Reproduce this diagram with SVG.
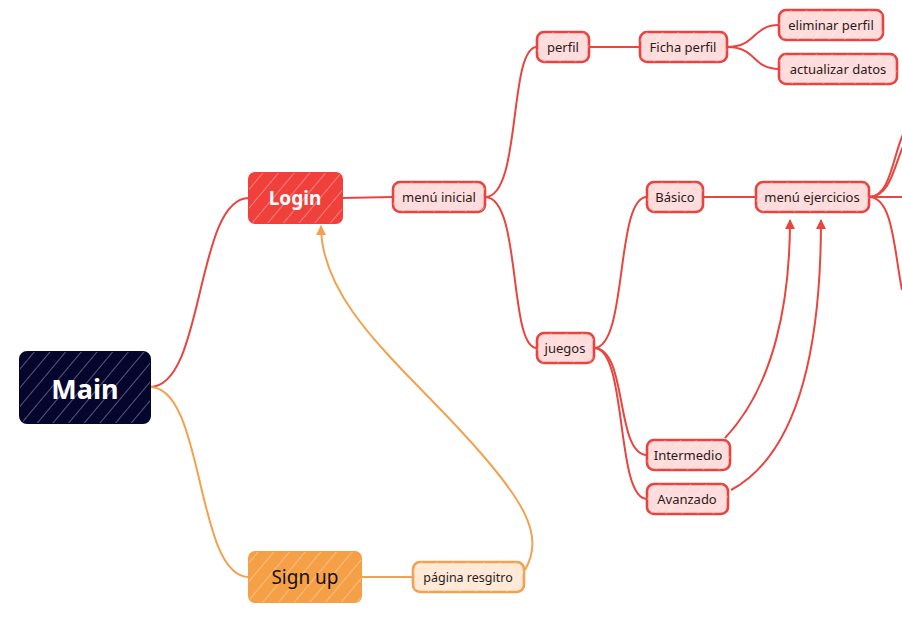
<svg xmlns="http://www.w3.org/2000/svg" width="902" height="632" viewBox="0 0 902 632">
<style>
.t{font-family:"Noto Sans","Liberation Sans",sans-serif;font-size:13px;fill:#2a1a1a;text-anchor:middle;dominant-baseline:central}
.sub{fill:#ffdcdc;stroke:#e8433f;stroke-width:2.6}
.hatch{fill:url(#h)}
.er{fill:none;stroke:#e8453f;stroke-width:2}
.eo{fill:none;stroke:#f2a24e;stroke-width:2}
</style>
<defs>
<pattern id="h" width="12" height="12" patternUnits="userSpaceOnUse" patternTransform="rotate(40)">
<line x1="0" y1="0" x2="0" y2="12" stroke="#ffffff" stroke-width="1.2" stroke-opacity="0.55"/>
</pattern>
<marker id="ar" viewBox="0 0 10 10" refX="9" refY="5" markerWidth="5" markerHeight="5" orient="auto"><path d="M0,0 L10,5 L0,10 z" fill="#e8453f"/></marker>
<marker id="ao" viewBox="0 0 10 10" refX="9" refY="5" markerWidth="5" markerHeight="5" orient="auto"><path d="M0,0 L10,5 L0,10 z" fill="#f2a24e"/></marker>
</defs>
<rect width="902" height="632" fill="#ffffff"/>
<g id="connectors">
<path class="er" d="M150,387 C205,387 195,198 249,198"/>
<path class="eo" d="M150,387 C205,387 195,577 249,577"/>
<path class="er" d="M342,198 L393,197"/>
<path class="er" d="M485,197 C522,197 508,47 537,47"/>
<path class="er" d="M485,197 C522,197 508,348 537,348"/>
<path class="er" d="M589,47 L640,47"/>
<path class="er" d="M727,47 C757,47 752,25 779,25"/>
<path class="er" d="M727,47 C757,47 752,69 779,69"/>
<path class="er" d="M594,348 C628,348 615,197 647,197"/>
<path class="er" d="M594,348 C628,348 615,455 647,455"/>
<path class="er" d="M594,348 C628,348 615,499 647,499"/>
<path class="er" d="M703,197 L756,197"/>
<path class="er" d="M869,197 C892,197 893,150 906,128"/>
<path class="er" d="M869,197 C892,197 895,160 906,140"/>
<path class="er" d="M869,197 L902,197"/>
<path class="er" d="M869,197 C893,197 894,250 902,290"/>
<path class="er" marker-end="url(#ar)" d="M725,438 C775,385 790,300 790,220"/>
<path class="er" marker-end="url(#ar)" d="M731,490 C805,450 821,330 821,220"/>
<path class="eo" marker-end="url(#ao)" d="M525,570 C545,535 525,500 460,430 C395,360 321,300 321,226"/>
<path class="eo" d="M361,577 L413,577"/>
</g>
<g id="main"><rect x="20" y="352" width="130" height="71" rx="7" fill="#05052e" stroke="#05052e" stroke-width="2"/><rect x="20" y="352" width="130" height="71" rx="7" class="hatch"/><text x="85" y="388" class="t" style="font-size:27px;font-weight:bold;fill:#fff">Main</text></g>
<g id="login"><rect x="249" y="173" width="93" height="50" rx="6" fill="#f0403c" stroke="#f0403c" stroke-width="2"/><rect x="249" y="173" width="93" height="50" rx="6" class="hatch"/><text x="295" y="198" class="t" style="font-size:19px;font-weight:bold;fill:#fff">Login</text></g>
<g id="signup"><rect x="249" y="552" width="112" height="50" rx="6" fill="#f5a046" stroke="#f5a046" stroke-width="2"/><rect x="249" y="552" width="112" height="50" rx="6" class="hatch"/><text x="305" y="577" class="t" style="font-size:19px;fill:#111">Sign up</text></g>
<g id="menu-inicial"><rect x="393" y="182" width="92" height="30" rx="7" class="sub"/><rect x="393" y="182" width="92" height="30" rx="7" class="hatch"/><text x="439" y="197" class="t">menú inicial</text></g>
<g id="perfil"><rect x="537" y="32" width="52" height="30" rx="7" class="sub"/><rect x="537" y="32" width="52" height="30" rx="7" class="hatch"/><text x="563" y="47" class="t">perfil</text></g>
<g id="ficha-perfil"><rect x="640" y="32" width="87" height="30" rx="7" class="sub"/><rect x="640" y="32" width="87" height="30" rx="7" class="hatch"/><text x="683" y="47" class="t">Ficha perfil</text></g>
<g id="eliminar-perfil"><rect x="779" y="10" width="104" height="30" rx="7" class="sub"/><rect x="779" y="10" width="104" height="30" rx="7" class="hatch"/><text x="831" y="25" class="t">eliminar perfil</text></g>
<g id="actualizar-datos"><rect x="779" y="54" width="118" height="30" rx="7" class="sub"/><rect x="779" y="54" width="118" height="30" rx="7" class="hatch"/><text x="838" y="69" class="t">actualizar datos</text></g>
<g id="basico"><rect x="647" y="182" width="56" height="30" rx="7" class="sub"/><rect x="647" y="182" width="56" height="30" rx="7" class="hatch"/><text x="675" y="197" class="t">Básico</text></g>
<g id="menu-ejercicios"><rect x="756" y="182" width="113" height="30" rx="7" class="sub"/><rect x="756" y="182" width="113" height="30" rx="7" class="hatch"/><text x="812" y="197" class="t">menú ejercicios</text></g>
<g id="juegos"><rect x="537" y="333" width="57" height="30" rx="7" class="sub"/><rect x="537" y="333" width="57" height="30" rx="7" class="hatch"/><text x="565" y="348" class="t">juegos</text></g>
<g id="intermedio"><rect x="647" y="440" width="83" height="30" rx="7" class="sub"/><rect x="647" y="440" width="83" height="30" rx="7" class="hatch"/><text x="688" y="455" class="t">Intermedio</text></g>
<g id="avanzado"><rect x="647" y="484" width="81" height="30" rx="7" class="sub"/><rect x="647" y="484" width="81" height="30" rx="7" class="hatch"/><text x="687" y="499" class="t">Avanzado</text></g>
<g id="pagina-resgitro"><rect x="413" y="562" width="111" height="30" rx="7" fill="#fde9d6" stroke="#f2a24e" stroke-width="2.6"/><rect x="413" y="562" width="111" height="30" rx="7" class="hatch"/><text x="468" y="577" class="t" style="font-size:12.5px">página resgitro</text></g>
</svg>
